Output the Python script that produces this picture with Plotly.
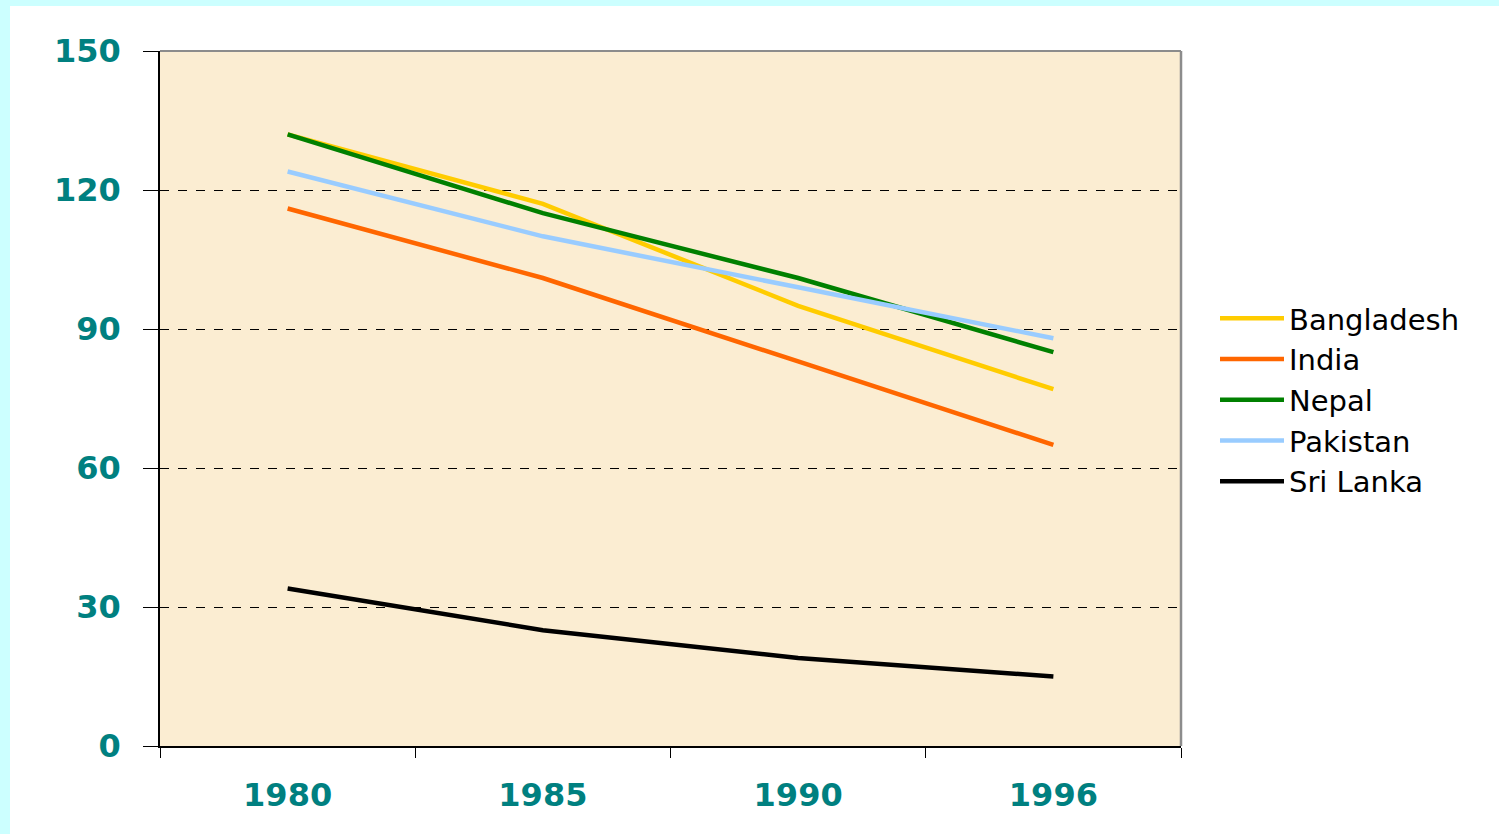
import plotly.graph_objects as go

years = ["1980", "1985", "1990", "1996"]
bangladesh = [132, 117, 95, 77]
india = [116, 101, 83, 65]
nepal = [132, 115, 101, 85]
pakistan = [124, 110, 99, 88]
sri_lanka = [34, 25, 19, 15]

series = [
    ("Bangladesh", bangladesh, "#FFCC00"),
    ("India", india, "#FF6600"),
    ("Nepal", nepal, "#008000"),
    ("Pakistan", pakistan, "#99CCFF"),
    ("Sri Lanka", sri_lanka, "#000000"),
]

W, H = 1499, 834
L, R, T, B = 160, 1181, 51, 746
pw, ph = R - L, B - T

def px(x):
    return (x - L) / pw

def py(y):
    return (B - y) / ph

fig = go.Figure()
for name, vals, col in series:
    fig.add_trace(go.Scatter(x=years, y=vals, name=name, mode="lines",
                             line=dict(color=col, width=4.5)))

teal = "#008080"
tickfont = dict(family="DejaVu Sans", size=32, color=teal, weight="bold")
fig.update_layout(
    width=W, height=H,
    margin=dict(l=L, r=W - R, t=T, b=H - B, pad=0),
    paper_bgcolor="white",
    plot_bgcolor="#FBEDD2",
    showlegend=True,
    legend=dict(x=px(1215), y=py(400), xanchor="left", yanchor="middle",
                font=dict(family="DejaVu Sans", size=29, color="black"),
                bgcolor="rgba(0,0,0,0)", itemwidth=64, tracegroupgap=0),
    xaxis=dict(type="category", tickson="boundaries", ticks="outside", ticklen=10,
               tickcolor="black", showline=True, linecolor="black", linewidth=1.5,
               showgrid=False, range=[-0.5, 3.5],
               tickfont=tickfont, ticklabelstandoff=20),
    yaxis=dict(range=[0, 150], dtick=30, ticks="outside", ticklen=15, tickcolor="black",
               showline=True, linecolor="black", linewidth=1.5,
               showgrid=True, gridcolor="black", griddash="dash", gridwidth=0.8,
               zeroline=False,
               tickfont=tickfont, ticklabelstandoff=16),
    shapes=[
        dict(type="line", xref="paper", yref="paper", x0=0, x1=1, y0=1, y1=1,
             line=dict(color="#8C8C8C", width=2)),
        dict(type="line", xref="paper", yref="paper", x0=1, x1=1, y0=0, y1=1,
             line=dict(color="#8C8C8C", width=2.5)),
        dict(type="rect", xref="paper", yref="paper", x0=px(0), x1=px(W), y0=py(0), y1=py(6),
             fillcolor="#CCFFFF", line=dict(width=0), layer="below"),
        dict(type="rect", xref="paper", yref="paper", x0=px(0), x1=px(10), y0=py(H), y1=py(0),
             fillcolor="#CCFFFF", line=dict(width=0), layer="below"),
    ],
)

fig.write_html("out.html", config={"displayModeBar": False},
               post_script="document.body.style.margin='0';document.body.style.padding='0';")
